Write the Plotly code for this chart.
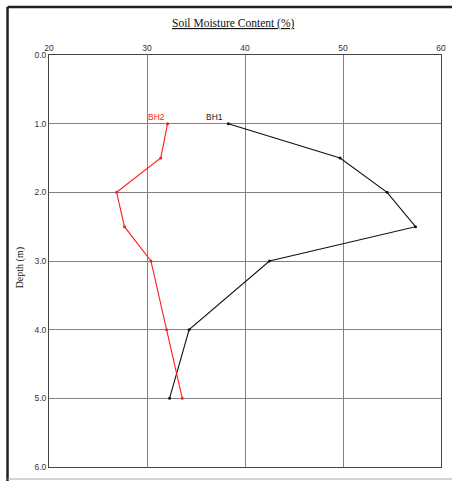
import plotly.graph_objects as go

depth = [1.0, 1.5, 2.0, 2.5, 3.0, 4.0, 5.0]
bh1 = [38.3, 49.7, 54.5, 57.4, 42.5, 34.3, 32.3]
bh2 = [32.1, 31.4, 26.9, 27.7, 30.4, 32.0, 33.6]
x_ticks = [20, 30, 40, 50, 60]
y_ticks = [0.0, 1.0, 2.0, 3.0, 4.0, 5.0, 6.0]

W, H = 452, 481
L, R, T, B = 49, 6, 55, 14
pw, ph = W - L - R, H - T - B

def px(xp):
    return (xp - L) / pw

def py(yp):
    return 1 - (yp - T) / ph

fig = go.Figure()
fig.add_trace(go.Scatter(x=bh1, y=depth, mode="lines+markers", name="BH1",
                         line=dict(color="#111", width=1.1),
                         marker=dict(color="#111", size=3, symbol="circle")))
fig.add_trace(go.Scatter(x=bh2, y=depth, mode="lines+markers", name="BH2",
                         line=dict(color="#ff1a1a", width=1.1),
                         marker=dict(color="#ff1a1a", size=3, symbol="circle")))

fig.add_annotation(x=bh1[0], y=depth[0], text="BH1", showarrow=False,
                   xanchor="right", yanchor="bottom", xshift=-3, yshift=0,
                   font=dict(family="Liberation Sans", size=8.5, color="#222"))
fig.add_annotation(x=bh2[0], y=depth[0], text="BH2", showarrow=False,
                   xanchor="right", yanchor="bottom", xshift=-1, yshift=0,
                   font=dict(family="Liberation Sans", size=8.5, color="#ff1a1a"))

fig.add_annotation(xref="paper", yref="paper", x=px(236), y=py(23), text="<u>Soil Moisture Content (%)</u>",
                   showarrow=False, xanchor="center", yanchor="middle",
                   font=dict(family="Liberation Serif", size=11.5, color="#111"))
fig.add_annotation(xref="paper", yref="paper", x=px(20), y=py(268), text="Depth (m)", textangle=-90,
                   showarrow=False, xanchor="center", yanchor="middle",
                   font=dict(family="Liberation Serif", size=10, color="#111"))

# outer frame
fig.add_shape(type="line", xref="paper", yref="paper", x0=px(7), x1=px(460), y0=py(7), y1=py(7),
              line=dict(color="#222", width=2.5))
fig.add_shape(type="line", xref="paper", yref="paper", x0=px(7), x1=px(7), y0=py(7), y1=py(481),
              line=dict(color="#222", width=2.5))
fig.add_shape(type="line", xref="paper", yref="paper", x0=px(7), x1=px(460), y0=py(479), y1=py(479),
              line=dict(color="#aaa", width=1))

fig.update_xaxes(range=[20, 60], side="top", tickvals=x_ticks, ticktext=[str(v) for v in x_ticks],
                 showgrid=True, gridcolor="#808080", gridwidth=1, zeroline=False,
                 showline=True, linecolor="#444", linewidth=1, mirror=True,
                 ticks="", tickfont=dict(family="Liberation Sans", size=8.5, color="#333"))
fig.update_yaxes(range=[6, 0], tickvals=y_ticks, ticktext=[f"{v:.1f}" for v in y_ticks],
                 showgrid=True, gridcolor="#808080", gridwidth=1, zeroline=False,
                 showline=True, linecolor="#444", linewidth=1, mirror=True,
                 ticks="", tickfont=dict(family="Liberation Sans", size=8.5, color="#333"))

fig.update_layout(width=W, height=H, margin=dict(l=L, r=R, t=T, b=B),
                  paper_bgcolor="white", plot_bgcolor="white", showlegend=False)

fig.write_html("out.html", config={"displayModeBar": False},
               post_script="document.body.style.margin='0px';document.body.style.overflow='hidden';")
